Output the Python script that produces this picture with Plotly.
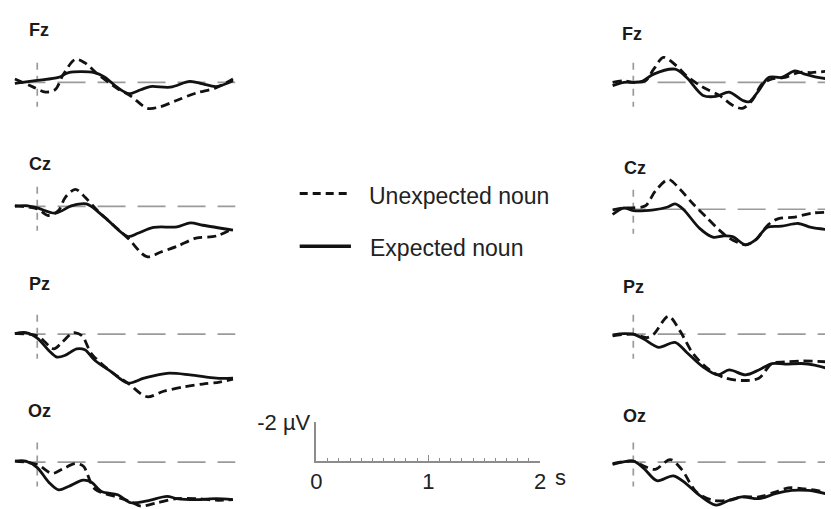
import plotly.graph_objects as go

W, H = 831, 509
FONT = "Liberation Sans, Arial, sans-serif"

channels = ["Fz", "Cz", "Pz", "Oz"]

# ---------------- Left column (group A) ----------------
A_Fz_exp_t = [-0.2, 0.0, 0.19, 0.28, 0.51, 0.60, 0.72, 0.82, 0.925, 1.01, 1.19, 1.365, 1.48, 1.60, 1.75]
A_Fz_exp_v = [0.05, -0.1, -0.25, -0.5, -0.5, -0.28, 0.28, 0.58, 0.38, 0.22, 0.25, -0.05, 0.08, 0.22, -0.08]
A_Fz_unexp_t = [-0.2, -0.044, 0.073, 0.16, 0.235, 0.34, 0.425, 0.54, 0.72, 0.84, 0.985, 1.10, 1.25, 1.42, 1.60, 1.75]
A_Fz_unexp_v = [-0.17, 0.22, 0.5, 0.38, -0.42, -1.17, -1.0, -0.42, 0.33, 0.72, 1.33, 1.25, 0.92, 0.55, 0.28, -0.17]

A_Cz_exp_t = [-0.2, -0.1, 0.0, 0.16, 0.31, 0.44, 0.60, 0.81, 0.90, 1.04, 1.25, 1.37, 1.48, 1.75]
A_Cz_exp_v = [0.0, -0.03, 0.08, 0.35, -0.03, -0.12, 0.55, 1.55, 1.38, 1.08, 1.05, 0.85, 0.97, 1.22]
A_Cz_unexp_t = [-0.2, 0.0, 0.10, 0.19, 0.25, 0.34, 0.43, 0.51, 0.60, 0.81, 0.98, 1.10, 1.25, 1.42, 1.60, 1.75]
A_Cz_unexp_v = [-0.03, 0.13, 0.47, 0.22, -0.45, -0.87, -0.45, 0.05, 0.55, 1.63, 2.58, 2.35, 2.05, 1.63, 1.52, 1.13]

A_Pz_exp_t = [-0.2, -0.1, 0.0, 0.103, 0.176, 0.25, 0.352, 0.426, 0.514, 0.66, 0.81, 0.955, 1.16, 1.366, 1.60, 1.75]
A_Pz_exp_v = [-0.03, -0.08, 0.2, 0.83, 1.17, 1.08, 0.75, 0.8, 1.33, 1.92, 2.5, 2.25, 2.0, 2.08, 2.25, 2.25]
A_Pz_unexp_t = [-0.2, 0.0, 0.147, 0.22, 0.323, 0.40, 0.485, 0.66, 0.81, 0.98, 1.13, 1.31, 1.48, 1.63, 1.75]
A_Pz_unexp_v = [-0.03, 0.08, 0.75, 0.42, -0.08, 0.08, 1.0, 1.92, 2.5, 3.2, 2.92, 2.7, 2.55, 2.45, 2.3]

A_Oz_exp_t = [-0.197, -0.103, 0.0, 0.103, 0.191, 0.279, 0.411, 0.485, 0.573, 0.72, 0.837, 0.984, 1.16, 1.248, 1.424, 1.60, 1.747]
A_Oz_exp_v = [-0.05, -0.05, 0.28, 1.03, 1.42, 1.25, 0.92, 1.03, 1.5, 1.67, 2.08, 1.98, 1.75, 1.87, 1.92, 1.87, 1.92]
A_Oz_unexp_t = [-0.2, 0.0, 0.132, 0.22, 0.338, 0.411, 0.514, 0.72, 0.837, 0.925, 1.072, 1.248, 1.424, 1.60, 1.75]
A_Oz_unexp_v = [-0.05, 0.12, 0.58, 0.37, 0.08, 0.2, 1.37, 1.8, 2.03, 2.25, 2.08, 1.87, 1.87, 1.95, 1.92]

# ---------------- Right column (group B) ----------------
B_Fz_exp_t = [-0.185, -0.082, 0.0, 0.079, 0.182, 0.373, 0.476, 0.623, 0.740, 0.857, 0.975, 1.034, 1.122, 1.210, 1.327, 1.445, 1.533, 1.65, 1.75]
B_Fz_exp_v = [0.17, 0.0, 0.0, -0.05, -0.42, -0.67, -0.25, 0.67, 0.72, 0.5, 0.92, 1.0, 0.42, -0.25, -0.25, -0.58, -0.42, -0.25, -0.17]
B_Fz_unexp_t = [-0.185, -0.082, 0.0, 0.109, 0.182, 0.270, 0.388, 0.476, 0.623, 0.769, 0.887, 0.975, 1.063, 1.152, 1.240, 1.357, 1.474, 1.592, 1.75]
B_Fz_unexp_v = [0.0, -0.08, 0.0, -0.08, -0.67, -1.28, -0.83, -0.33, 0.25, 0.67, 1.17, 1.33, 0.92, 0.08, -0.17, -0.25, -0.5, -0.5, -0.58]

B_Cz_exp_t = [-0.185, -0.082, 0.0, 0.182, 0.30, 0.373, 0.446, 0.593, 0.711, 0.80, 0.887, 1.004, 1.093, 1.196, 1.327, 1.474, 1.592, 1.75]
B_Cz_exp_v = [0.27, -0.07, 0.07, 0.03, -0.1, -0.27, 0.0, 0.98, 1.43, 1.37, 1.4, 1.82, 1.57, 0.93, 0.87, 0.73, 0.93, 1.05]
B_Cz_unexp_t = [-0.185, -0.082, 0.0, 0.109, 0.197, 0.314, 0.417, 0.535, 0.652, 0.769, 0.858, 0.946, 1.004, 1.093, 1.21, 1.298, 1.445, 1.592, 1.75]
B_Cz_unexp_v = [0.03, -0.07, -0.07, -0.18, -0.93, -1.52, -1.02, -0.27, 0.4, 1.07, 1.48, 1.73, 1.82, 1.57, 0.77, 0.48, 0.4, 0.2, 0.15]

B_Pz_exp_t = [-0.185, -0.082, 0.0, 0.094, 0.226, 0.373, 0.476, 0.623, 0.755, 0.857, 1.004, 1.122, 1.239, 1.357, 1.504, 1.621, 1.75]
B_Pz_exp_v = [0.03, -0.03, 0.0, 0.25, 0.67, 0.42, 0.92, 1.67, 2.08, 1.83, 2.08, 1.83, 1.5, 1.53, 1.5, 1.58, 1.78]
B_Pz_unexp_t = [-0.185, 0.0, 0.123, 0.182, 0.314, 0.417, 0.535, 0.681, 0.828, 0.975, 1.122, 1.239, 1.357, 1.504, 1.75]
B_Pz_unexp_v = [0.08, 0.0, 0.17, 0.0, -0.92, -0.17, 1.0, 1.83, 2.25, 2.37, 2.25, 1.5, 1.42, 1.37, 1.42]

B_Oz_exp_t = [-0.185, 0.0, 0.094, 0.211, 0.358, 0.476, 0.593, 0.74, 0.858, 0.975, 1.122, 1.269, 1.416, 1.562, 1.75]
B_Oz_exp_v = [0.12, -0.05, 0.32, 0.95, 0.7, 1.12, 1.7, 2.2, 1.95, 1.78, 1.87, 1.62, 1.45, 1.45, 1.65]
B_Oz_unexp_t = [-0.185, 0.0, 0.094, 0.197, 0.329, 0.432, 0.564, 0.711, 0.858, 0.975, 1.122, 1.269, 1.386, 1.533, 1.75]
B_Oz_unexp_v = [0.08, -0.05, 0.2, 0.37, -0.13, 0.37, 1.53, 1.95, 1.95, 1.78, 1.78, 1.53, 1.32, 1.37, 1.55]

legend_labels = ["Unexpected noun", "Expected noun"]
scale_ticks = [0, 1, 2]
scale_ticktext = ["0", "1", "2"]
scale_unit_x = "s"
scale_amp = -2
scale_amp_text = "-2 µV"

data = {
    "A": {
        "Fz": (A_Fz_exp_t, A_Fz_exp_v, A_Fz_unexp_t, A_Fz_unexp_v),
        "Cz": (A_Cz_exp_t, A_Cz_exp_v, A_Cz_unexp_t, A_Cz_unexp_v),
        "Pz": (A_Pz_exp_t, A_Pz_exp_v, A_Pz_unexp_t, A_Pz_unexp_v),
        "Oz": (A_Oz_exp_t, A_Oz_exp_v, A_Oz_unexp_t, A_Oz_unexp_v),
    },
    "B": {
        "Fz": (B_Fz_exp_t, B_Fz_exp_v, B_Fz_unexp_t, B_Fz_unexp_v),
        "Cz": (B_Cz_exp_t, B_Cz_exp_v, B_Cz_unexp_t, B_Cz_unexp_v),
        "Pz": (B_Pz_exp_t, B_Pz_exp_v, B_Pz_unexp_t, B_Pz_unexp_v),
        "Oz": (B_Oz_exp_t, B_Oz_exp_v, B_Oz_unexp_t, B_Oz_unexp_v),
    },
}

# ---------------- layout geometry (pixels) ----------------
PX_PER_S = 113.5
PX_PER_UV = 20.0
col_t0 = {"A": 31.7, "B": 636.5}
col_range = {"A": (-0.22, 1.77), "B": (-0.2, (W - 636.5) / PX_PER_S)}
col_base_start = {"A": -0.176, "B": -0.14}
baselines = {"A": {"Fz": 72, "Cz": 199, "Pz": 330, "Oz": 461},
             "B": {"Fz": 72, "Cz": 202, "Pz": 330, "Oz": 461}}
label_pos = {"A": {"Fz": (33.5, 18), "Cz": (34, 156), "Pz": (34, 279), "Oz": (34, 409)},
             "B": {"Fz": (635.5, 23), "Cz": (638, 160), "Pz": (637, 282), "Oz": (638, 414)}}
UV_TOP = -1.6
UV_BOT = 3.4

fig = go.Figure()
layout = {}
annotations = []
shapes = []

LINE_COLOR = "#121212"
GRAY = "#8c8c8c"

idx = 0
for col in ["A", "B"]:
    r0, r1 = col_range[col]
    t0 = col_t0[col]
    x0px = t0 + r0 * PX_PER_S
    x1px = t0 + r1 * PX_PER_S
    for ch in channels:
        idx += 1
        b = baselines[col][ch]
        top_px = b + UV_TOP * PX_PER_UV
        bot_px = min(H, b + UV_BOT * PX_PER_UV)
        uv_bot = (bot_px - b) / PX_PER_UV
        xa = "x" if idx == 1 else f"x{idx}"
        ya = "y" if idx == 1 else f"y{idx}"
        layout["xaxis" if idx == 1 else f"xaxis{idx}"] = dict(
            domain=[max(0, x0px / W), min(1, x1px / W)], range=[r0, r1],
            visible=False, anchor=ya, fixedrange=True)
        layout["yaxis" if idx == 1 else f"yaxis{idx}"] = dict(
            domain=[1 - bot_px / H, 1 - top_px / H], range=[uv_bot, UV_TOP],
            visible=False, anchor=xa, fixedrange=True)
        # zero baseline
        fig.add_trace(go.Scatter(x=[col_base_start[col], 1.8], y=[0, 0], mode="lines",
                                 line=dict(color="#9a9a9a", width=1.7, dash="28px,12px"),
                                 xaxis=xa, yaxis=ya, showlegend=False, hoverinfo="skip"))
        # stimulus onset
        fig.add_trace(go.Scatter(x=[0, 0], y=[-1.0, 1.25], mode="lines",
                                 line=dict(color="#9a9a9a", width=1.7, dash="7px,6px"),
                                 xaxis=xa, yaxis=ya, showlegend=False, hoverinfo="skip"))
        et, ev, ut, uv = data[col][ch]
        fig.add_trace(go.Scatter(x=et, y=ev, mode="lines", name=legend_labels[1],
                                 line=dict(color=LINE_COLOR, width=2.8, shape="spline", smoothing=0.9),
                                 xaxis=xa, yaxis=ya, showlegend=False))
        fig.add_trace(go.Scatter(x=ut, y=uv, mode="lines", name=legend_labels[0],
                                 line=dict(color=LINE_COLOR, width=2.8, dash="9px,5px",
                                           shape="spline", smoothing=0.9),
                                 xaxis=xa, yaxis=ya, showlegend=False))
        lx, ly = label_pos[col][ch]
        annotations.append(dict(text=f"<b>{ch}</b>", x=lx / W, y=1 - ly / H, xref="paper", yref="paper",
                                xanchor="center", yanchor="middle", showarrow=False,
                                font=dict(family=FONT, size=18, color="#1a1a1a")))

# ---------------- scale bar subplot ----------------
idx += 1
sx, sy = f"x{idx}", f"y{idx}"
layout[f"xaxis{idx}"] = dict(
    domain=[315 / W, 542 / W], range=[0, 2], anchor=sy, fixedrange=True,
    showline=True, linecolor=GRAY, linewidth=1.5, showgrid=False, zeroline=False,
    ticks="inside", ticklen=6, tickwidth=1.3, tickcolor=GRAY,
    tickvals=scale_ticks, ticktext=scale_ticktext,
    tickfont=dict(family=FONT, size=22, color="#222"),
    minor=dict(dtick=0.1, ticks="inside", ticklen=3, tickwidth=1.2, tickcolor=GRAY, showgrid=False))
layout[f"yaxis{idx}"] = dict(
    domain=[1 - 460 / H, 1 - 420 / H], range=[0, -2], anchor=sx, fixedrange=True,
    showline=True, linecolor=GRAY, linewidth=1.5, showgrid=False, zeroline=False,
    ticks="inside", ticklen=4, tickwidth=1.3, tickcolor=GRAY,
    tickvals=[scale_amp], ticktext=[scale_amp_text],
    tickfont=dict(family=FONT, size=22, color="#222"))
fig.add_trace(go.Scatter(x=[None], y=[None], xaxis=sx, yaxis=sy, showlegend=False, hoverinfo="skip"))
annotations.append(dict(text=scale_unit_x, x=555 / W, y=1 - 477 / H, xref="paper", yref="paper",
                        xanchor="left", yanchor="middle", showarrow=False,
                        font=dict(family=FONT, size=22, color="#222")))

# ---------------- legend (manual) ----------------
shapes.append(dict(type="line", xref="paper", yref="paper", x0=298 / W, x1=350 / W,
                   y0=1 - 186 / H, y1=1 - 186 / H, line=dict(color=LINE_COLOR, width=3, dash="8px,5px")))
shapes.append(dict(type="line", xref="paper", yref="paper", x0=298 / W, x1=350 / W,
                   y0=1 - 240 / H, y1=1 - 240 / H, line=dict(color=LINE_COLOR, width=3.5)))
annotations.append(dict(text=legend_labels[0], x=366 / W, y=1 - 188 / H, xref="paper", yref="paper",
                        xanchor="left", yanchor="middle", showarrow=False,
                        font=dict(family=FONT, size=23, color="#222")))
annotations.append(dict(text=legend_labels[1], x=367 / W, y=1 - 242 / H, xref="paper", yref="paper",
                        xanchor="left", yanchor="middle", showarrow=False,
                        font=dict(family=FONT, size=23, color="#222")))

fig.update_layout(**layout)
fig.update_layout(width=W, height=H, margin=dict(l=0, r=0, t=0, b=0, pad=0), autosize=False,
                  paper_bgcolor="white", plot_bgcolor="rgba(0,0,0,0)",
                  showlegend=False, annotations=annotations, shapes=shapes)

fig.write_html("out.html", config={"displayModeBar": False, "responsive": False},
               post_script="document.body.style.margin='0';document.body.style.padding='0';"
                           "document.body.style.overflow='hidden';")
